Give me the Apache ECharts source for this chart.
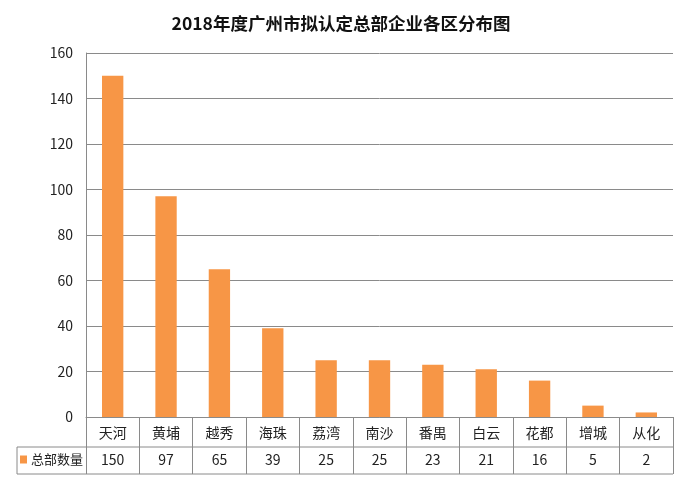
<!DOCTYPE html>
<html lang="zh">
<head>
<meta charset="utf-8">
<script src="https://cdn.jsdelivr.net/npm/echarts@6/dist/echarts.min.js"></script>
<style>
  html, body { margin: 0; padding: 0; background: #fff; }
  #chartMain { width: 682px; height: 480px; }
</style>
</head>
<body>
<div id="chartMain"></div>
<script>
    // data
    var districts = ['天河', '黄埔', '越秀', '海珠', '荔湾', '南沙', '番禺', '白云', '花都', '增城', '从化'];
    var counts = [150, 97, 65, 39, 25, 25, 23, 21, 16, 5, 2];
    var seriesName = '总部数量';
    var yTicks = { min: 0, max: 160, interval: 20 };

    var font = '"Noto Sans CJK SC", "Microsoft YaHei", sans-serif';
    var lineColor = '#8a8a8a';
    var gridLeft = 86, gridRight = 9, gridTop = 53, gridBottom = 63;
    var W = 682, H = 480;
    var axisY = H - gridBottom;   // y of the category axis
    var rowH = 30, rowH2 = 27;    // table rows
    var tableLeft = 17;

    var myChart = echarts.init(document.getElementById('chartMain'));

    myChart.setOption({
        animation: false,
        textStyle: { fontFamily: font },
        title: {
            text: '2018年度广州市拟认定总部企业各区分布图',
            left: 'center',
            top: 10,
            textStyle: { fontSize: 17.5, fontWeight: 'bold', color: '#111', fontFamily: font }
        },
        legend: {
            data: [seriesName],
            left: tableLeft + 3,
            top: axisY + rowH + 6,
            padding: 0,
            itemWidth: 7,
            itemHeight: 8,
            itemGap: 4,
            icon: 'rect',
            textStyle: { fontSize: 13, color: '#222', padding: [0, 0, 0, -1] }
        },
        grid: { left: gridLeft, right: gridRight, top: gridTop, bottom: gridBottom },
        xAxis: [
            {
                type: 'category',
                data: districts,
                axisLine: { lineStyle: { color: lineColor } },
                axisTick: { show: true, interval: 0, length: rowH + rowH2, lineStyle: { color: lineColor } },
                axisLabel: { interval: 0, margin: 9, fontSize: 14, color: '#222' }
            },
            {
                type: 'category',
                position: 'bottom',
                offset: rowH,
                data: counts.map(String),
                axisLine: { show: false },
                axisTick: { show: false },
                axisLabel: { interval: 0, margin: 6, fontSize: 14, color: '#222' }
            }
        ],
        yAxis: {
            type: 'value',
            min: yTicks.min,
            max: yTicks.max,
            interval: yTicks.interval,
            axisLine: { show: true, lineStyle: { color: lineColor } },
            axisTick: { show: false },
            axisLabel: { margin: 13, fontSize: 14, color: '#222' },
            splitLine: { lineStyle: { color: lineColor } }
        },
        series: [
            {
                name: seriesName,
                type: 'bar',
                xAxisIndex: 0,
                data: counts,
                barWidth: '40%',
                itemStyle: { color: '#F79646' }
            }
        ],
        // table borders that the axes do not draw
        graphic: [
            { type: 'line', shape: { x1: tableLeft, y1: axisY + rowH, x2: W - gridRight, y2: axisY + rowH },
              style: { stroke: lineColor, lineWidth: 1 } },
            { type: 'line', shape: { x1: tableLeft, y1: axisY + rowH + rowH2, x2: W - gridRight, y2: axisY + rowH + rowH2 },
              style: { stroke: lineColor, lineWidth: 1 } },
            { type: 'line', shape: { x1: tableLeft, y1: axisY + rowH, x2: tableLeft, y2: axisY + rowH + rowH2 },
              style: { stroke: lineColor, lineWidth: 1 } }
        ]
    });
</script>
</body>
</html>
